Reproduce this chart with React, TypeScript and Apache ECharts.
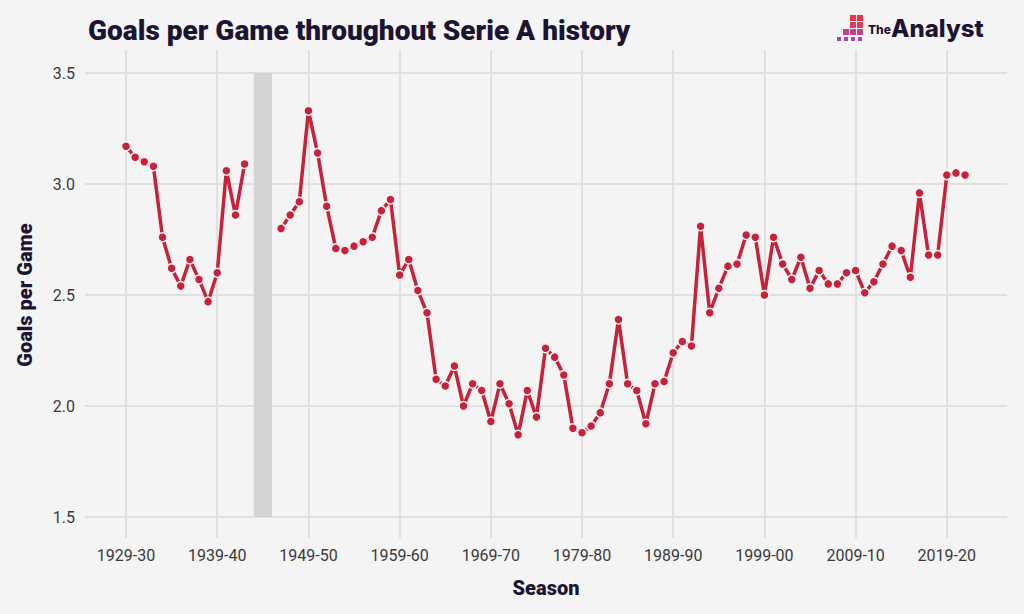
import React, { useEffect, useRef } from "react";
import * as echarts from "echarts";

const seasons: string[] = [
  "1929-30", "1930-31", "1931-32", "1932-33", "1933-34", "1934-35", "1935-36", "1936-37", "1937-38", "1938-39",
  "1939-40", "1940-41", "1941-42", "1942-43", "1943-44", "1944-45", "1945-46", "1946-47", "1947-48", "1948-49",
  "1949-50", "1950-51", "1951-52", "1952-53", "1953-54", "1954-55", "1955-56", "1956-57", "1957-58", "1958-59",
  "1959-60", "1960-61", "1961-62", "1962-63", "1963-64", "1964-65", "1965-66", "1966-67", "1967-68", "1968-69",
  "1969-70", "1970-71", "1971-72", "1972-73", "1973-74", "1974-75", "1975-76", "1976-77", "1977-78", "1978-79",
  "1979-80", "1980-81", "1981-82", "1982-83", "1983-84", "1984-85", "1985-86", "1986-87", "1987-88", "1988-89",
  "1989-90", "1990-91", "1991-92", "1992-93", "1993-94", "1994-95", "1995-96", "1996-97", "1997-98", "1998-99",
  "1999-00", "2000-01", "2001-02", "2002-03", "2003-04", "2004-05", "2005-06", "2006-07", "2007-08", "2008-09",
  "2009-10", "2010-11", "2011-12", "2012-13", "2013-14", "2014-15", "2015-16", "2016-17", "2017-18", "2018-19",
  "2019-20", "2020-21", "2021-22",
];

const goalsPerGame: (number | null)[] = [
  3.17, 3.12, 3.10, 3.08, 2.76, 2.62, 2.54, 2.66, 2.57, 2.47,
  2.60, 3.06, 2.86, 3.09, null, null, null, 2.80, 2.86, 2.92,
  3.33, 3.14, 2.90, 2.71, 2.70, 2.72, 2.74, 2.76, 2.88, 2.93,
  2.59, 2.66, 2.52, 2.42, 2.12, 2.09, 2.18, 2.00, 2.10, 2.07,
  1.93, 2.10, 2.01, 1.87, 2.07, 1.95, 2.26, 2.22, 2.14, 1.90,
  1.88, 1.91, 1.97, 2.10, 2.39, 2.10, 2.07, 1.92, 2.10, 2.11,
  2.24, 2.29, 2.27, 2.81, 2.42, 2.53, 2.63, 2.64, 2.77, 2.76,
  2.50, 2.76, 2.64, 2.57, 2.67, 2.53, 2.61, 2.55, 2.55, 2.60,
  2.61, 2.51, 2.56, 2.64, 2.72, 2.70, 2.58, 2.96, 2.68, 2.68,
  3.04, 3.05, 3.04,
];

const tickSeasons: string[] = [
  "1929-30", "1939-40", "1949-50", "1959-60", "1969-70",
  "1979-80", "1989-90", "1999-00", "2009-10", "2019-20",
];

const gapSeasons: string[] = ["1943-44", "1945-46"];

const yTicks = { min: 1.5, max: 3.5, interval: 0.5 };

const BG = "#f4f4f4";
const GRID = "#e0e0e0";
const RED = "#c8213a";
const INK = "#1c1433";

export default function App() {
  const ref = useRef<HTMLDivElement>(null);

  useEffect(() => {
    if (!ref.current) return;
    const chart = echarts.init(ref.current, undefined, { renderer: "svg" });

    const tickIdx = tickSeasons.map((s) => seasons.indexOf(s));
    const data = goalsPerGame.map((v, i) => [i, v === null ? "-" : v]);
    const gapStart = seasons.indexOf(gapSeasons[0]);
    const gapEnd = seasons.indexOf(gapSeasons[1]);

    const iconColors = ["#ea3348", "#e03a66", "#c93c8e", "#a344bd"];
    const iconRows: number[][] = [
      [2, 3],
      [2, 3],
      [1, 2, 3],
      [0, 1, 2, 3],
    ];
    const iconEls: any[] = [];
    iconRows.forEach((cols, r) => {
      cols.forEach((c) => {
        const small = r === 3;
        iconEls.push({
          type: "rect",
          shape: {
            x: 836 + c * 7 + (small ? 1 : 0),
            y: 15 + r * 7 + (small ? 1 : 0),
            width: small ? 4 : 6,
            height: small ? 4 : 6,
          },
          style: { fill: iconColors[r] },
        });
      });
    });

    const option: any = {
      animation: false,
      backgroundColor: BG,
      title: {
        text: "Goals per Game throughout Serie A history",
        left: 83,
        top: 11,
        textStyle: {
          fontFamily: "Roboto",
          fontSize: 28,
          fontWeight: 900,
          color: INK,
        },
      },
      graphic: [
        ...iconEls,
        {
          type: "text",
          x: 868,
          y: 29,
          style: {
            text: "The",
            fontFamily: "Inter",
            fontSize: 12,
            fontWeight: 800,
            fill: INK,
            textVerticalAlign: "middle",
          },
        },
        {
          type: "text",
          x: 891,
          y: 28,
          style: {
            text: "Analyst",
            fontFamily: "Inter",
            fontSize: 24,
            fontWeight: 800,
            fill: INK,
            textVerticalAlign: "middle",
          },
        },
      ],
      grid: { left: 85, right: 17, top: 73, bottom: 97, containLabel: false },
      xAxis: [
        {
          type: "value",
          min: -4.5,
          max: 96.6,
          name: "Season",
          nameLocation: "middle",
          nameGap: 61,
          nameTextStyle: { fontFamily: "Roboto", fontSize: 20, fontWeight: 900, color: INK },
          axisLine: { show: false },
          axisTick: {
            show: true,
            customValues: tickIdx,
            length: 21,
            lineStyle: { color: GRID, width: 2 },
          },
          axisLabel: {
            customValues: tickIdx,
            margin: 30,
            fontFamily: "Roboto",
            fontSize: 16,
            color: "#3a3a3a",
            formatter: (v: number) => seasons[Math.round(v)] ?? "",
          },
          splitLine: { show: true, lineStyle: { color: GRID, width: 2 } },
        },
        {
          type: "value",
          position: "top",
          min: -4.5,
          max: 96.6,
          axisLine: { show: false },
          axisTick: {
            show: true,
            customValues: tickIdx,
            length: 23,
            lineStyle: { color: GRID, width: 2 },
          },
          axisLabel: { show: false, customValues: tickIdx },
          splitLine: { show: false },
        },
      ],
      yAxis: {
        type: "value",
        min: yTicks.min,
        max: yTicks.max,
        interval: yTicks.interval,
        name: "Goals per Game",
        nameLocation: "middle",
        nameRotate: 90,
        nameGap: 50,
        nameTextStyle: { fontFamily: "Roboto", fontSize: 20, fontWeight: 900, color: INK },
        axisLine: { show: false },
        axisTick: { show: false },
        axisLabel: {
          margin: 10,
          fontFamily: "Roboto",
          fontSize: 16,
          color: "#3a3a3a",
          formatter: (v: number) => v.toFixed(1),
        },
        splitLine: { show: true, lineStyle: { color: GRID, width: 2 } },
      },
      series: [
        {
          type: "line",
          xAxisIndex: 0,
          data,
          connectNulls: false,
          lineStyle: { color: RED, width: 3.5 },
          symbol: "circle",
          symbolSize: 9,
          showAllSymbol: true,
          itemStyle: { color: RED, borderColor: BG, borderWidth: 1.5 },
          z: 5,
          markArea: {
            silent: true,
            itemStyle: { color: "#d4d4d4", opacity: 1 },
            data: [[{ xAxis: gapStart, yAxis: yTicks.min }, { xAxis: gapEnd, yAxis: yTicks.max }]],
          },
        },
      ],
    };

    chart.setOption(option);
    return () => chart.dispose();
  }, []);

  return (
    <div
      ref={ref}
      style={{ position: "fixed", left: 0, top: 0, width: 1024, height: 614 }}
    />
  );
}
